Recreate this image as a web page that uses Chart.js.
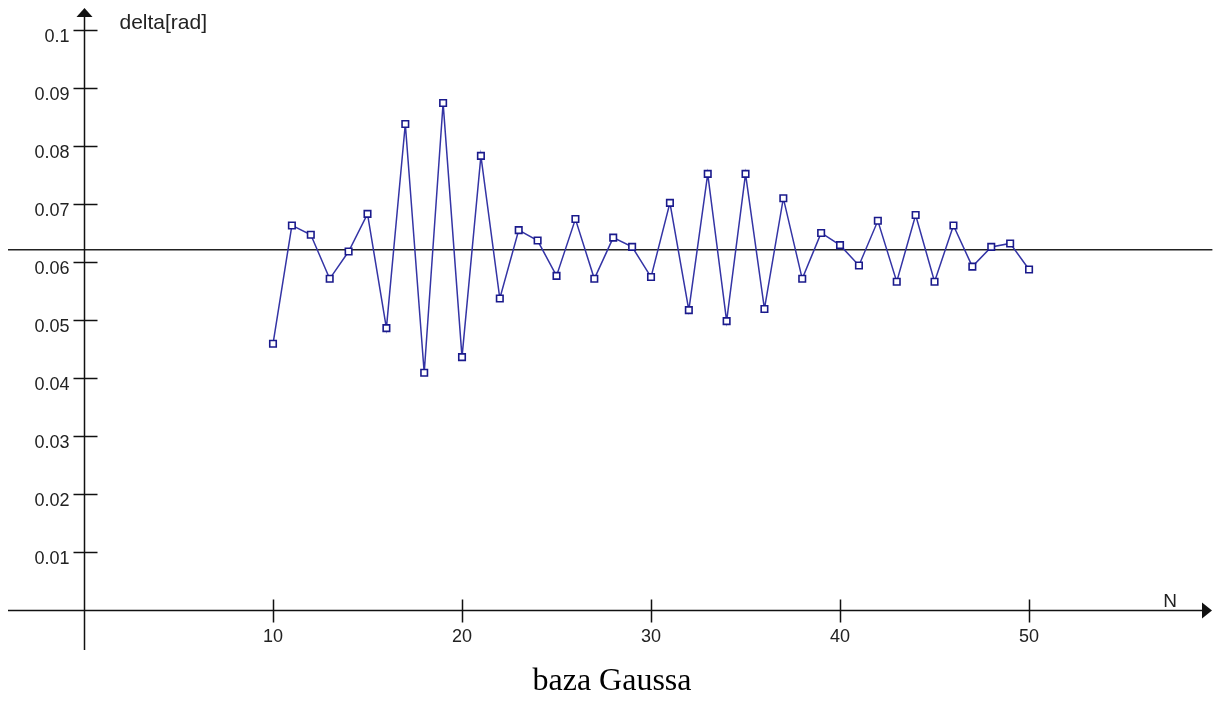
<!DOCTYPE html>
<html>
<head>
<meta charset="utf-8">
<title>delta vs N</title>
<script src="https://cdn.jsdelivr.net/npm/chart.js@4.4.1/dist/chart.umd.min.js"></script>
<style>
  html, body { margin: 0; padding: 0; background: #ffffff; }
  #wrap { width: 1222px; height: 702px; position: relative; }
</style>
</head>
<body>
<div id="wrap"><canvas id="deltaChart"></canvas></div>
<script>
// N (number of basis functions) and the resulting delta in radians
const nValues = [10, 11, 12, 13, 14, 15, 16, 17, 18, 19, 20, 21, 22, 23, 24, 25, 26, 27, 28, 29,
                 30, 31, 32, 33, 34, 35, 36, 37, 38, 39, 40, 41, 42, 43, 44, 45, 46, 47, 48, 49, 50];
const deltaValues = [0.0459, 0.0663, 0.0647, 0.0571, 0.0618, 0.0683, 0.0486, 0.0838, 0.0409, 0.0874,
                     0.0436, 0.0783, 0.0537, 0.0655, 0.0637, 0.0576, 0.0674, 0.0571, 0.0642, 0.0626,
                     0.0574, 0.0702, 0.0517, 0.0752, 0.0498, 0.0752, 0.0519, 0.0710, 0.0571, 0.0650,
                     0.0629, 0.0594, 0.0671, 0.0566, 0.0681, 0.0566, 0.0663, 0.0592, 0.0626, 0.0632,
                     0.0587];
// mean level drawn as a horizontal line
const meanLevel = 0.0621;

const xTicks = [10, 20, 30, 40, 50];
const xTickLabels = ['10', '20', '30', '40', '50'];
const yTicks = [0.01, 0.02, 0.03, 0.04, 0.05, 0.06, 0.07, 0.08, 0.09, 0.1];
const yTickLabels = ['0.01', '0.02', '0.03', '0.04', '0.05', '0.06', '0.07', '0.08', '0.09', '0.1'];

const X_MIN = -4.02, X_MAX = 59.15;
const Y_MIN = -0.0069, Y_MAX = 0.10224;

const axisColor = '#111111';
const textColor = '#222222';
const tickFont = '18px Liberation Sans, Arial, sans-serif';

const points = nValues.map((n, i) => ({ x: n, y: deltaValues[i] }));

// axes cross at (0,0), with arrows, ticks on both sides and labels
const crossAxes = {
    id: 'crossAxes',
    afterDraw(chart) {
        const ctx = chart.ctx;
        const area = chart.chartArea;
        const xs = chart.scales.x;
        const ys = chart.scales.y;
        const x0 = Math.round(xs.getPixelForValue(0)) + 0.5;
        const y0 = Math.round(ys.getPixelForValue(0)) + 0.5;

        ctx.save();
        ctx.strokeStyle = axisColor;
        ctx.fillStyle = axisColor;
        ctx.lineWidth = 1.5;

        ctx.beginPath();
        ctx.moveTo(area.left, y0);
        ctx.lineTo(area.right, y0);
        ctx.moveTo(x0, area.bottom);
        ctx.lineTo(x0, area.top);
        ctx.stroke();

        // tick marks
        ctx.beginPath();
        xTicks.forEach(v => {
            const px = Math.round(xs.getPixelForValue(v)) + 0.5;
            ctx.moveTo(px, y0 - 11);
            ctx.lineTo(px, y0 + 12);
        });
        yTicks.forEach(v => {
            const py = Math.round(ys.getPixelForValue(v)) + 0.5;
            ctx.moveTo(x0 - 11, py);
            ctx.lineTo(x0 + 13, py);
        });
        ctx.stroke();

        // arrow heads
        ctx.beginPath();
        ctx.moveTo(area.right + 10, y0);
        ctx.lineTo(area.right, y0 - 8);
        ctx.lineTo(area.right, y0 + 8);
        ctx.closePath();
        ctx.fill();
        ctx.beginPath();
        ctx.moveTo(x0, area.top - 9);
        ctx.lineTo(x0 - 8, area.top);
        ctx.lineTo(x0 + 8, area.top);
        ctx.closePath();
        ctx.fill();

        // tick labels
        ctx.fillStyle = textColor;
        ctx.font = tickFont;
        ctx.textBaseline = 'alphabetic';
        ctx.textAlign = 'center';
        xTicks.forEach((v, i) => {
            ctx.fillText(xTickLabels[i], xs.getPixelForValue(v), y0 + 31);
        });
        ctx.textAlign = 'right';
        yTicks.forEach((v, i) => {
            ctx.fillText(yTickLabels[i], x0 - 15, ys.getPixelForValue(v) + 12);
        });

        // axis names
        ctx.textAlign = 'left';
        ctx.font = '21px Liberation Sans, Arial, sans-serif';
        ctx.fillText('delta[rad]', x0 + 35, area.top + 12);
        ctx.font = '19px Liberation Sans, Arial, sans-serif';
        ctx.fillText('N', xs.getPixelForValue(57.1), y0 - 4);

        // caption under the plot
        ctx.fillStyle = '#000000';
        ctx.font = '32px Liberation Serif, Times New Roman, serif';
        ctx.textAlign = 'center';
        ctx.fillText('baza Gaussa', chart.width / 2 + 1, 690);
        ctx.restore();
    }
};

new Chart(document.getElementById('deltaChart'), {
    type: 'line',
    data: {
        datasets: [
            {
                label: 'mean',
                data: [{ x: X_MIN, y: meanLevel }, { x: 59.7, y: meanLevel }],
                borderColor: '#222222',
                borderWidth: 1.5,
                pointRadius: 0,
                clip: false,
                order: 2
            },
            {
                label: 'delta',
                data: points,
                borderColor: 'rgb(52, 52, 165)',
                borderWidth: 1.5,
                pointStyle: 'rect',
                pointRadius: 4.6,
                pointBorderWidth: 1.6,
                pointBorderColor: 'rgb(26, 26, 140)',
                pointBackgroundColor: '#ffffff',
                tension: 0,
                order: 1
            }
        ]
    },
    options: {
        responsive: true,
        maintainAspectRatio: false,
        animation: false,
        layout: { padding: { left: 8, right: 20, top: 17, bottom: 52 } },
        plugins: {
            legend: { display: false },
            tooltip: { enabled: false }
        },
        scales: {
            x: {
                type: 'linear',
                min: X_MIN,
                max: X_MAX,
                position: { y: 0 },
                grid: { display: false },
                border: { display: false },
                ticks: { display: false }
            },
            y: {
                type: 'linear',
                min: Y_MIN,
                max: Y_MAX,
                position: { x: 0 },
                grid: { display: false },
                border: { display: false },
                ticks: { display: false }
            }
        }
    },
    plugins: [crossAxes]
});
</script>
</body>
</html>
